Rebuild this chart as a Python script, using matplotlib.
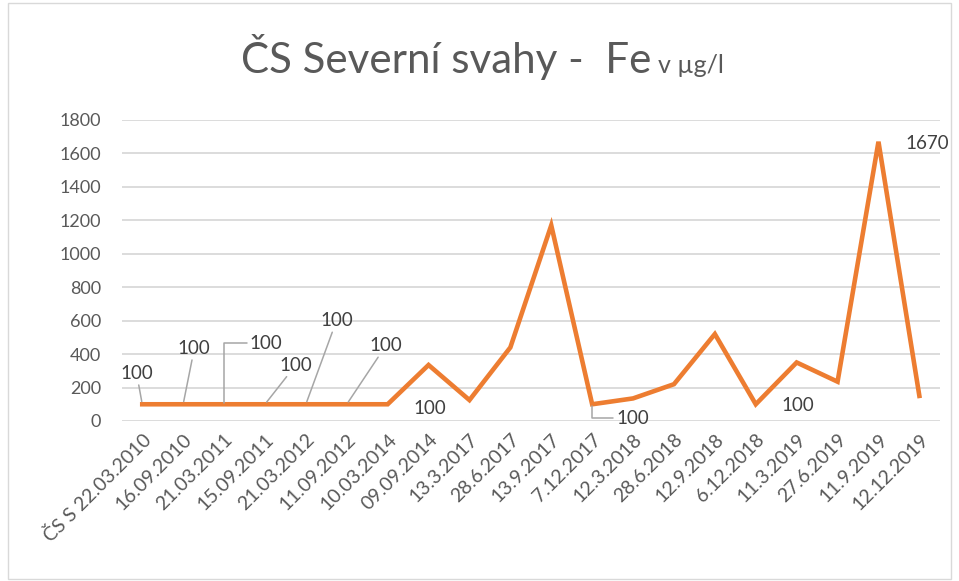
import matplotlib
matplotlib.use("Agg")
import matplotlib.pyplot as plt
from matplotlib.patches import Rectangle

plt.rcParams['font.family'] = ['Lato', 'DejaVu Sans']

dates = ["ČS S 22.03.2010", "16.09.2010", "21.03.2011", "15.09.2011", "21.03.2012",
         "11.09.2012", "10.03.2014", "09.09.2014", "13.3.2017", "28.6.2017",
         "13.9.2017", "7.12.2017", "12.3.2018", "28.6.2018", "12.9.2018",
         "6.12.2018", "11.3.2019", "27.6.2019", "11.9.2019", "12.12.2019"]
fe = [100, 100, 100, 100, 100, 100, 100, 335, 125, 440,
      1170, 100, 135, 220, 520, 100, 350, 235, 1670, 150]
y_ticks = [0, 200, 400, 600, 800, 1000, 1200, 1400, 1600, 1800]

# labelled points: index -> (text offset in points, leader style)
labels = {
    0: ((-4, 22), "line"),
    1: ((8, 40), "line"),
    2: ((30, 44), "elbow"),
    3: ((22, 28), "line"),
    4: ((22, 60), "line"),
    5: ((28, 42), "line"),
    6: ((30, -3), None),
    11: ((29, -10), "elbow"),
    15: ((30, -1), None),
    18: ((35, -1), None),
}

fig = plt.figure(figsize=(9.59, 5.81), dpi=100)
ax = fig.add_axes([0.127, 0.2754, 0.853, 0.5181])

x = list(range(len(dates)))
ax.plot(x, fe, color="#ED7D31", lw=3.3, solid_joinstyle="miter", zorder=3)

ax.set_xlim(-0.5, len(dates) - 0.5)
ax.set_ylim(0, 1800)
ax.set_yticks(y_ticks)
ax.set_yticklabels([str(v) for v in y_ticks], fontsize=13, color="#595959")
ax.yaxis.grid(True, color="#d9d9d9", lw=1.3)
ax.set_axisbelow(True)
ax.tick_params(axis="y", length=0, pad=15)
ax.set_xticks(x)
ax.set_xticklabels(dates, rotation=45, ha="right", va="top",
                   rotation_mode="anchor", fontsize=14, color="#595959")
ax.tick_params(axis="x", length=0, pad=7)
for s in ax.spines.values():
    s.set_visible(False)

for i, (off, style) in labels.items():
    props = None
    if style == "line":
        props = dict(arrowstyle="-", color="#a6a6a6", lw=1.1, shrinkA=0, shrinkB=2)
    elif style == "elbow":
        props = dict(arrowstyle="-", color="#a6a6a6", lw=1.1, shrinkA=0, shrinkB=1,
                     connectionstyle="angle,angleA=0,angleB=90,rad=0",
                     relpos=(0, 0.5))
    ax.annotate(str(fe[i]), xy=(i, fe[i]), xytext=off, textcoords="offset points",
                ha="center", va="center", fontsize=13.5, color="#404040",
                arrowprops=props, zorder=4)

fig.text(0.679, 0.874, "ČS Severní svahy -  Fe", ha="right", va="baseline",
         fontsize=30.3, color="#595959")
fig.text(0.686, 0.874, "v µg/l", ha="left", va="baseline",
         fontsize=18, color="#595959")

fig.add_artist(Rectangle((0.008, 0.004), 0.984, 0.99, transform=fig.transFigure,
                         fill=False, edgecolor="#d9d9d9", lw=1))

fig.savefig("out.png", dpi=100, facecolor="white")
